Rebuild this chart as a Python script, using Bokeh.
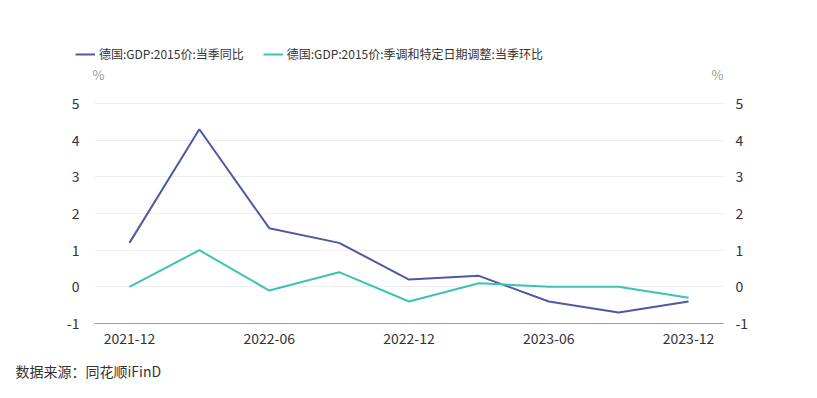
from bokeh.plotting import figure
from bokeh.layouts import column
from bokeh.models import (ColumnDataSource, Range1d, LinearAxis, FixedTicker,
                          Label, Legend, LegendItem)
from bokeh.embed import file_html
from bokeh.resources import INLINE

quarters = ["2021-12", "2022-03", "2022-06", "2022-09", "2022-12",
            "2023-03", "2023-06", "2023-09", "2023-12"]
yoy = [1.2, 4.3, 1.6, 1.2, 0.2, 0.3, -0.4, -0.7, -0.4]
qoq = [0.0, 1.0, -0.1, 0.4, -0.4, 0.1, 0.0, 0.0, -0.3]
name_yoy = "德国:GDP:2015价:当季同比"
name_qoq = "德国:GDP:2015价:季调和特定日期调整:当季环比"
y_ticks = [-1, 0, 1, 2, 3, 4, 5]
y_tick_labels = ["-1", "0", "1", "2", "3", "4", "5"]
unit = "%"
source_note = "数据来源：同花顺iFinD"

FONT = "Noto Sans CJK SC"
C1 = "#4f5a9e"
C2 = "#3cc3b3"
W = 801
HDR_H, MAIN_H, FTR_H = 84, 271, 27
NAN = float("nan")


def blank(h):
    f = figure(width=W, height=h, output_backend="svg", toolbar_location=None,
               x_range=Range1d(0, W), y_range=Range1d(0, h),
               min_border=0, min_border_left=0, min_border_right=0,
               min_border_top=0, min_border_bottom=0,
               x_axis_location=None, y_axis_location=None, frame_align=False)
    f.grid.grid_line_color = None
    f.outline_line_color = None
    f.background_fill_color = "white"
    f.border_fill_color = "white"
    return f


# ---- header: legend and unit labels
hdr = blank(HDR_H)
h1 = hdr.line(x=[NAN], y=[NAN], line_color=C1, line_width=2)
h2 = hdr.line(x=[NAN], y=[NAN], line_color=C2, line_width=2)
legend = Legend(items=[LegendItem(label=name_yoy, renderers=[h1]),
                       LegendItem(label=name_qoq, renderers=[h2])],
                orientation="horizontal", location=(75, 22),
                label_text_font=FONT, label_text_font_size="12px",
                label_text_color="#333333", glyph_width=20, glyph_height=14,
                label_standoff=4, spacing=19, padding=0, margin=0,
                border_line_color=None, background_fill_alpha=0)
hdr.add_layout(legend, "center")
hdr.add_layout(Label(x=92, y=10, x_units="screen", y_units="screen",
                     text=unit, text_font=FONT, text_font_size="13px",
                     text_color="#999999", text_align="left",
                     text_baseline="middle"))
hdr.add_layout(Label(x=723, y=10, x_units="screen", y_units="screen",
                     text=unit, text_font=FONT, text_font_size="13px",
                     text_color="#999999", text_align="right",
                     text_baseline="middle"))

# ---- main chart
idx = list(range(len(quarters)))
src = ColumnDataSource(dict(x=idx, yoy=yoy, qoq=qoq))

p = figure(width=W, height=MAIN_H, output_backend="svg", toolbar_location=None,
           x_range=Range1d(-0.5, len(quarters) - 0.5),
           y_range=Range1d(-1, 5.52),
           min_border_left=94, min_border_right=78, min_border_top=0,
           min_border_bottom=32, y_axis_location=None, frame_align=False)
p.outline_line_color = None
p.background_fill_color = "white"
p.border_fill_color = "white"

p.line("x", "yoy", source=src, line_color=C1, line_width=2)
p.line("x", "qoq", source=src, line_color=C2, line_width=2)

xa = p.xaxis[0]
xa.ticker = FixedTicker(ticks=idx[::2])
xa.major_label_overrides = {i: quarters[i] for i in idx}
xa.axis_line_color = "#8e9bc6"
xa.axis_line_width = 1
xa.major_tick_line_color = None
xa.minor_tick_line_color = None
xa.major_label_text_font = FONT
xa.major_label_text_font_size = "14px"
xa.major_label_text_color = "#333333"
xa.major_label_standoff = 3

p.xgrid.grid_line_color = None
p.ygrid.grid_line_color = "#eceef5"
p.ygrid.ticker = FixedTicker(ticks=y_ticks)

for side in ("left", "right"):
    ax = LinearAxis(ticker=FixedTicker(ticks=y_ticks))
    ax.major_label_overrides = dict(zip(y_ticks, y_tick_labels))
    ax.axis_line_color = None
    ax.major_tick_line_color = None
    ax.minor_tick_line_color = None
    ax.major_label_text_font = FONT
    ax.major_label_text_font_size = "14px"
    ax.major_label_text_color = "#333333"
    ax.major_label_standoff = 9 if side == "left" else 6
    p.add_layout(ax, side)

# ---- footer: data source
ftr = blank(FTR_H)
ftr.add_layout(Label(x=15, y=12, x_units="screen", y_units="screen",
                     text=source_note, text_font=FONT, text_font_size="14px",
                     text_color="#333333", text_align="left",
                     text_baseline="middle"))

layout = column(hdr, p, ftr, spacing=0)
open("out.html", "w").write(file_html(layout, INLINE))
